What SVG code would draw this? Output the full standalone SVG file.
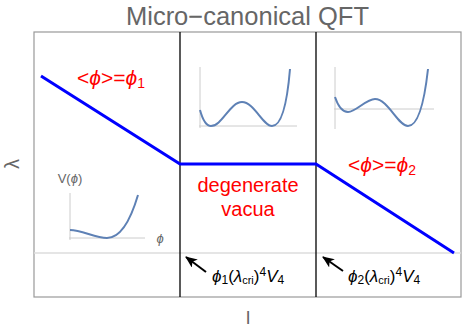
<svg xmlns="http://www.w3.org/2000/svg" width="463" height="334" viewBox="0 0 463 334">
<defs>
<style>
.t{font-family:"Liberation Sans",Arial,sans-serif}
.gray{fill:#666}
.red{fill:#ff0000}
.it{font-style:italic}
.ax{stroke:#cccccc;stroke-width:1;fill:none}
.cv{stroke:#5e81b5;stroke-width:2;fill:none}
.div{stroke:#000;stroke-width:1.3}
</style>
<marker id="ah" markerWidth="12" markerHeight="10" refX="11" refY="5" orient="auto" markerUnits="userSpaceOnUse">
<path d="M0,0 L12,5 L0,10 L3,5 Z" fill="#000"/>
</marker>
</defs>
<rect width="463" height="334" fill="#fff"/>
<text class="t gray" x="247.5" y="25" font-size="25.5" text-anchor="middle">Micro−canonical QFT</text>
<g id="frame">
<rect x="34" y="32" width="427" height="265" fill="none" stroke="#999" stroke-width="1.2"/>
<line x1="34" y1="253" x2="461" y2="253" stroke="#dddddd" stroke-width="1.5"/>
<line class="div" x1="180" y1="32" x2="180" y2="297"/>
<line class="div" x1="316" y1="32" x2="316" y2="297"/>
</g>
<text class="t gray" x="0" y="0" font-size="20" text-anchor="middle" transform="translate(19,164) rotate(-90)">λ</text>
<text class="t gray" x="248" y="324" font-size="19" text-anchor="middle">l</text>
<g id="phase-line">
<polyline points="41,76 180,164 316,164 454,253" fill="none" stroke="#0000ff" stroke-width="3"/>
</g>
<g id="inset-left">
<line class="ax" x1="70" y1="193" x2="70" y2="240"/>
<line class="ax" x1="69" y1="238" x2="145" y2="238"/>
<path class="cv" d="M70,230 C82,230 95,238 107,238 C120,238 130,222 138,195"/>
<text class="t gray" x="70" y="183" font-size="13" text-anchor="middle">V(<tspan class="it">ϕ</tspan>)</text>
<text class="t gray it" x="160" y="243" font-size="13" text-anchor="middle">ϕ</text>
</g>
<g id="inset-mid">
<line class="ax" x1="200" y1="67" x2="200" y2="128"/>
<line class="ax" x1="199" y1="126" x2="297" y2="126"/>
<path class="cv" d="M200,110 C203,121 206,126 211,126 C222,126 230,102 242,102 C254,102 263,126 272,126 C281,126 287,105 290,69"/>
</g>
<g id="inset-right">
<line class="ax" x1="335" y1="67" x2="335" y2="129"/>
<line class="ax" x1="334" y1="109" x2="434" y2="109"/>
<path class="cv" d="M335,97 C338,106 342,112 348,112 C356,112 366,99 375,99 C388,99 398,126 408,126 C418,126 424,105 428,69"/>
</g>
<g id="label-phase1">
<text class="t red" x="77" y="85" font-size="21">&lt;<tspan class="it">ϕ</tspan>&gt;=<tspan class="it">ϕ</tspan><tspan font-size="14" dy="3">1</tspan></text>
</g>
<g id="label-phase2">
<text class="t red" x="348" y="172" font-size="21">&lt;<tspan class="it">ϕ</tspan>&gt;=<tspan class="it">ϕ</tspan><tspan font-size="14" dy="3">2</tspan></text>
</g>
<g id="label-degenerate">
<text class="t red" x="248" y="192" font-size="20" text-anchor="middle">degenerate</text>
<text class="t red" x="248" y="216" font-size="20" text-anchor="middle">vacua</text>
</g>
<g id="connectors">
<line x1="206" y1="272" x2="186" y2="257" stroke="#000" stroke-width="2" marker-end="url(#ah)"/>
<line x1="343" y1="271" x2="323" y2="257" stroke="#000" stroke-width="2" marker-end="url(#ah)"/>
</g>
<g id="label-crit1">
<text class="t" x="212" y="282" font-size="17" fill="#000"><tspan class="it">ϕ</tspan><tspan font-size="12" dy="2">1</tspan><tspan dy="-2">(</tspan><tspan class="it">λ</tspan><tspan font-size="11" dy="2">cri</tspan><tspan dy="-2">)</tspan><tspan font-size="12" dy="-6">4</tspan><tspan class="it" dy="6">V</tspan><tspan font-size="12" dy="2">4</tspan></text>
</g>
<g id="label-crit2">
<text class="t" x="348" y="282" font-size="17" fill="#000"><tspan class="it">ϕ</tspan><tspan font-size="12" dy="2">2</tspan><tspan dy="-2">(</tspan><tspan class="it">λ</tspan><tspan font-size="11" dy="2">cri</tspan><tspan dy="-2">)</tspan><tspan font-size="12" dy="-6">4</tspan><tspan class="it" dy="6">V</tspan><tspan font-size="12" dy="2">4</tspan></text>
</g>
</svg>
